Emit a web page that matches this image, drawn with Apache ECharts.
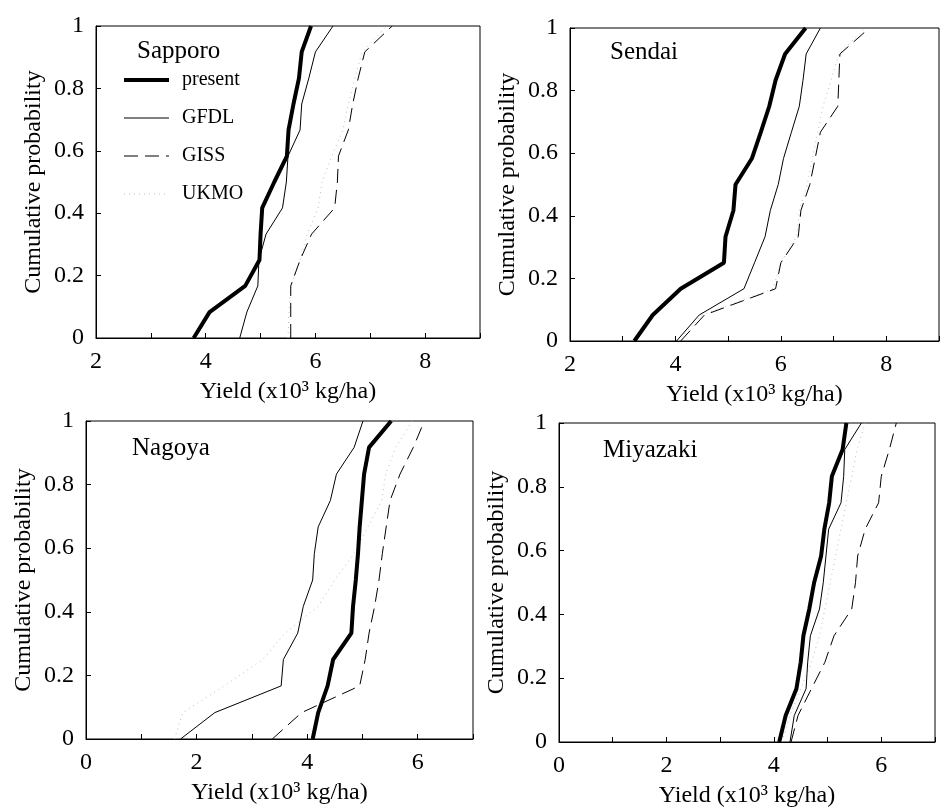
<!DOCTYPE html>
<html>
<head>
<meta charset="utf-8">
<script src="https://cdn.jsdelivr.net/npm/echarts@6/dist/echarts.min.js"></script>
<style>html,body{margin:0;padding:0;background:#fff}#c{width:942px;height:810px}</style>
</head>
<body>
<div id="c"></div>
<script>
// cumulative probability levels
const probs = [0, 0.083, 0.167, 0.25, 0.333, 0.417, 0.5, 0.583, 0.667, 0.75, 0.833, 0.917, 1];
const cities = ['Sapporo', 'Sendai', 'Nagoya', 'Miyazaki'];
const scenarios = ['present', 'GFDL', 'GISS', 'UKMO'];

// yields (x10^3 kg/ha) at each probability level
const sapporoPresent = [3.78, 4.07, 4.72, 4.98, 5.0, 5.03, 5.25, 5.48, 5.51, 5.6, 5.7, 5.75, 5.92];
const sapporoGFDL    = [4.62, 4.75, 4.95, 4.97, 5.1, 5.4, 5.47, 5.5, 5.72, 5.75, 5.88, 6.0, 6.32];
const sapporoGISS    = [5.55, 5.55, 5.55, 5.72, 5.93, 6.35, 6.4, 6.42, 6.6, 6.68, 6.78, 6.9, 7.4];
const sapporoUKMO    = [5.5, 5.52, 5.55, 5.72, 5.85, 6.05, 6.12, 6.3, 6.5, 6.6, 6.72, 6.85, 7.3];

const sendaiPresent = [3.22, 3.57, 4.1, 4.92, 4.95, 5.1, 5.14, 5.45, 5.62, 5.78, 5.9, 6.08, 6.47];
const sendaiGFDL    = [4.02, 4.45, 5.3, 5.5, 5.7, 5.8, 5.95, 6.05, 6.2, 6.35, 6.42, 6.48, 6.75];
const sendaiGISS    = [4.1, 4.55, 5.9, 6.0, 6.33, 6.38, 6.55, 6.65, 6.75, 7.08, 7.1, 7.12, 7.68];
const sendaiUKMO    = [4.05, 4.5, 5.85, 6.0, 6.3, 6.35, 6.5, 6.6, 6.7, 6.8, 6.95, 7.1, 7.6];

const nagoyaPresent = [4.1, 4.2, 4.37, 4.47, 4.8, 4.83, 4.88, 4.92, 4.95, 4.99, 5.03, 5.12, 5.52];
const nagoyaGFDL    = [1.71, 2.33, 3.53, 3.57, 3.83, 3.93, 4.1, 4.13, 4.2, 4.42, 4.53, 4.85, 5.01];
const nagoyaGISS    = [3.37, 3.9, 4.95, 5.05, 5.12, 5.22, 5.3, 5.36, 5.43, 5.5, 5.68, 5.92, 6.12];
const nagoyaUKMO    = [1.6, 1.75, 2.5, 3.2, 3.6, 4.2, 4.5, 4.85, 5.1, 5.35, 5.42, 5.6, 5.9];

const miyazakiPresent = [4.1, 4.22, 4.42, 4.5, 4.55, 4.66, 4.75, 4.88, 4.94, 5.03, 5.08, 5.28, 5.35];
const miyazakiGFDL    = [4.3, 4.38, 4.6, 4.63, 4.68, 4.85, 4.92, 4.97, 5.02, 5.25, 5.3, 5.32, 5.63];
const miyazakiGISS    = [4.32, 4.45, 4.7, 4.95, 5.12, 5.45, 5.52, 5.56, 5.7, 5.95, 6.0, 6.15, 6.28];
const miyazakiUKMO    = [4.15, 4.3, 4.5, 4.7, 4.85, 4.95, 5.05, 5.15, 5.25, 5.35, 5.45, 5.55, 5.7];

const xMins = [2, 2, 0, 0];
const xMaxs = [9, 9, 7, 7];
const xTitle = 'Yield (x10\u00B3 kg/ha)';
const yTitle = 'Cumulative probability';

const cityData = [
  [sapporoPresent, sapporoGFDL, sapporoGISS, sapporoUKMO],
  [sendaiPresent, sendaiGFDL, sendaiGISS, sendaiUKMO],
  [nagoyaPresent, nagoyaGFDL, nagoyaGISS, nagoyaUKMO],
  [miyazakiPresent, miyazakiGFDL, miyazakiGISS, miyazakiUKMO]
];

const FONT = 'Liberation Serif';
const grids = [
  {left: 96, top: 26, width: 384, height: 312},
  {left: 570, top: 28, width: 376, height: 313},
  {left: 86, top: 421, width: 387, height: 318},
  {left: 559, top: 423, width: 376, height: 319}
];
const titlePos = [
  {left: 137, top: 39},
  {left: 610, top: 40},
  {left: 132, top: 436},
  {left: 603, top: 438}
];
const lineStyles = [
  {color: '#000', width: 4, type: 'solid'},
  {color: '#000', width: 1, type: 'solid'},
  {color: '#000', width: 1, type: [14, 7]},
  {color: '#bdbdbd', width: 1, type: [1, 4]}
];

const xAxes = [], yAxes = [], series = [], titles = [];
for (let i = 0; i < 4; i++) {
  xAxes.push({
    gridIndex: i, type: 'value', min: xMins[i], max: xMaxs[i], interval: 1,
    name: xTitle, nameLocation: 'middle', nameGap: 42,
    nameTextStyle: {fontFamily: FONT, fontSize: 24, color: '#000'},
    axisLine: {lineStyle: {color: '#000', width: 1}},
    axisTick: {inside: true, length: 5, lineStyle: {color: '#000'}},
    axisLabel: {fontFamily: FONT, fontSize: 24, color: '#000', margin: 12,
      formatter: v => (v % 2 === 0 ? String(v) : '')},
    splitLine: {show: false}
  });
  yAxes.push({
    gridIndex: i, type: 'value', min: 0, max: 1, interval: 0.2,
    name: yTitle, nameLocation: 'middle', nameGap: 50,
    nameTextStyle: {fontFamily: FONT, fontSize: 24, color: '#000'},
    axisLine: {lineStyle: {color: '#000', width: 1}},
    axisTick: {inside: true, length: 5, lineStyle: {color: '#000'}},
    axisLabel: {fontFamily: FONT, fontSize: 24, color: '#000', margin: 12},
    splitLine: {show: false}
  });
  titles.push({
    text: cities[i], left: titlePos[i].left, top: titlePos[i].top, padding: 0,
    textStyle: {fontFamily: FONT, fontSize: 25, fontWeight: 'normal', color: '#000'}
  });
  for (let s = 0; s < 4; s++) {
    const vals = cityData[i][s];
    series.push({
      name: scenarios[s], type: 'line', xAxisIndex: i, yAxisIndex: i,
      symbol: 'none', showSymbol: false, silent: true,
      lineStyle: lineStyles[s], itemStyle: {color: lineStyles[s].color},
      z: 10 - s,
      data: vals.map((v, k) => [v, probs[k]])
    });
  }
}

const hiddenSymbol = {color: 'rgba(0,0,0,0)', borderWidth: 0, opacity: 0};
const chart = echarts.init(document.getElementById('c'));
chart.setOption({
  animation: false,
  backgroundColor: '#fff',
  title: titles,
  legend: {
    data: scenarios.map((n, s) => ({
      name: n,
      itemStyle: hiddenSymbol,
      lineStyle: {color: lineStyles[s].color, width: lineStyles[s].width, type: lineStyles[s].type}
    })),
    orient: 'vertical', left: 122, top: 70, padding: 0,
    itemWidth: 45, itemHeight: 14, itemGap: 18, selectedMode: false,
    textStyle: {fontFamily: FONT, fontSize: 20, color: '#000', lineHeight: 20, padding: [0, 0, 0, 8]}
  },
  grid: grids.map(g => Object.assign({show: true, borderColor: '#000', borderWidth: 1, containLabel: false}, g)),
  xAxis: xAxes,
  yAxis: yAxes,
  series: series
});
</script>
</body>
</html>
